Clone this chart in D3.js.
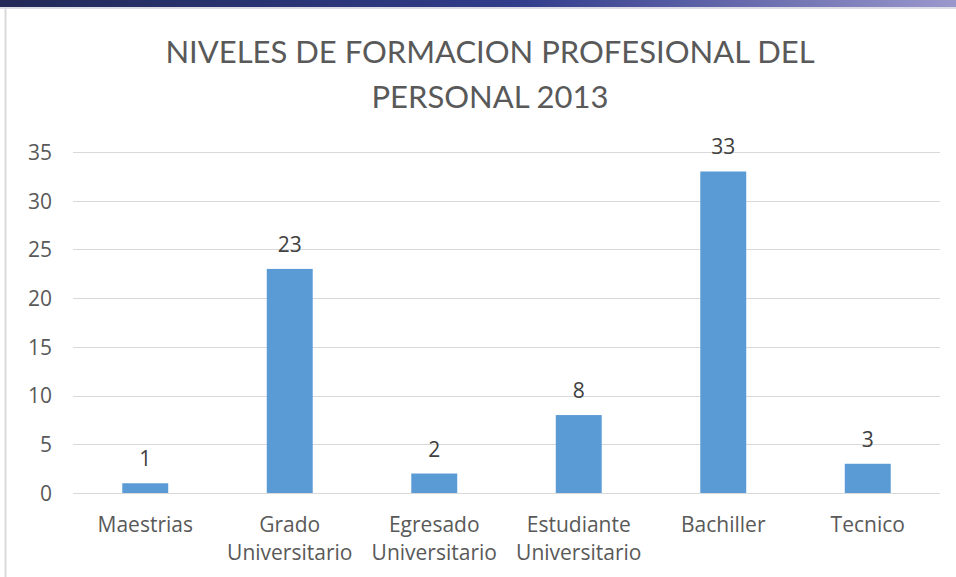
<!DOCTYPE html>
<html>
<head>
<meta charset="utf-8">
<script src="https://cdn.jsdelivr.net/npm/d3@7"></script>
<style>
  html, body { margin: 0; padding: 0; background: #fff; }
  svg { display: block; }
</style>
</head>
<body>
<script>
const w = 956;
const h = 577;

const categories = [
  ['Maestrias'],
  ['Grado', 'Universitario'],
  ['Egresado', 'Universitario'],
  ['Estudiante', 'Universitario'],
  ['Bachiller'],
  ['Tecnico']
];
const values = [1, 23, 2, 8, 33, 3];
const yTicks = [0, 5, 10, 15, 20, 25, 30, 35];
const titleLines = ['NIVELES DE FORMACION PROFESIONAL DEL', 'PERSONAL 2013'];

const margin = { left: 73, right: 16, top: 152, bottom: 84 };
const font = '"Open Sans", sans-serif';
const titleFont = 'Lato, "Open Sans", sans-serif';
const textColor = '#595959';

let svg = d3.select('body').append('svg').attr('width', w).attr('height', h);

// top banner gradient
let defs = svg.append('defs');
let grad = defs.append('linearGradient').attr('id', 'banner').attr('x1', 0).attr('x2', 1);
grad.append('stop').attr('offset', '0%').attr('stop-color', '#222958');
grad.append('stop').attr('offset', '55%').attr('stop-color', '#323d8c');
grad.append('stop').attr('offset', '100%').attr('stop-color', '#9a97cc');
svg.append('rect').attr('x', 0).attr('y', 0).attr('width', w).attr('height', 7).attr('fill', 'url(#banner)');
svg.append('rect').attr('x', 0).attr('y', 7).attr('width', w).attr('height', 2).attr('fill', '#dcdce8');

// chart frame edge
svg.append('line')
  .attr('x1', 5.5).attr('x2', 5.5).attr('y1', 9).attr('y2', h)
  .attr('stroke', '#d9d9d9').attr('stroke-width', 2);

let x = d3.scaleBand()
  .domain(d3.range(categories.length))
  .range([margin.left, w - margin.right]);

let y = d3.scaleLinear()
  .domain([0, 35])
  .range([h - margin.bottom, margin.top]);

// gridlines
svg.append('g')
  .selectAll('line')
  .data(yTicks)
  .enter()
  .append('line')
  .attr('x1', margin.left)
  .attr('x2', w - margin.right)
  .attr('y1', (d) => Math.round(y(d)) + 0.5)
  .attr('y2', (d) => Math.round(y(d)) + 0.5)
  .attr('stroke', '#d9d9d9')
  .attr('stroke-width', 1);

// y axis labels
let yAxis = svg.append('g')
  .attr('transform', 'translate(' + (margin.left - 21) + ',0)')
  .call(d3.axisLeft(y).tickValues(yTicks).tickSize(0).tickPadding(0));
yAxis.select('.domain').remove();
yAxis.selectAll('text')
  .attr('font-family', font)
  .attr('font-size', 21)
  .attr('fill', textColor)
  .attr('dy', '0.35em');

const barW = x.bandwidth() * 0.318;

// bars
svg.append('g')
  .selectAll('rect')
  .data(values)
  .enter()
  .append('rect')
  .attr('x', (d, i) => x(i) + x.bandwidth() / 2 - barW / 2)
  .attr('y', (d) => y(d))
  .attr('width', barW)
  .attr('height', (d) => y(0) - y(d))
  .attr('fill', '#5b9bd5');

// value labels
svg.append('g')
  .selectAll('text')
  .data(values)
  .enter()
  .append('text')
  .attr('x', (d, i) => x(i) + x.bandwidth() / 2)
  .attr('y', (d) => y(d) - 17)
  .attr('text-anchor', 'middle')
  .attr('font-family', font)
  .attr('font-size', 21)
  .attr('fill', '#404040')
  .text((d) => d);

// x axis category labels
let xAxis = svg.append('g')
  .attr('transform', 'translate(0,' + (h - margin.bottom) + ')')
  .call(d3.axisBottom(x).tickSize(0).tickFormat(''));
xAxis.select('.domain').remove();
xAxis.selectAll('.tick').each(function (d) {
  let t = d3.select(this).append('text')
    .attr('text-anchor', 'middle')
    .attr('font-family', font)
    .attr('font-size', 21)
    .attr('fill', textColor);
  categories[d].forEach((line, k) => {
    t.append('tspan').attr('x', 0).attr('y', 39 + k * 28).text(line);
  });
});

// title
let title = svg.append('text')
  .attr('text-anchor', 'middle')
  .attr('font-family', titleFont)
  .attr('font-size', 31)
  .attr('fill', textColor);
titleLines.forEach((line, k) => {
  title.append('tspan').attr('x', 490).attr('y', 63 + k * 45).text(line);
});
</script>
</body>
</html>
